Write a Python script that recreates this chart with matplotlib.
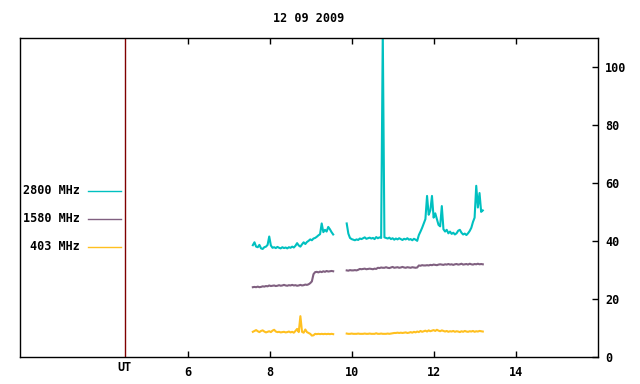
import matplotlib
matplotlib.use("Agg")
import matplotlib.pyplot as plt
import matplotlib.transforms as mtransforms
from matplotlib.lines import Line2D
import numpy as np

# Data series (time in UT hours, flux values)
title = "12 09 2009"
labels = ["2800 MHz", "1580 MHz", "403 MHz"]
colors = ["#00c0c0", "#806080", "#ffc020"]

step = 0.04
seg1_start = 7.58
seg2_start = 9.87

f2800_a = [38.5, 39.5, 38.0, 37.8, 38.6, 37.4, 37.2, 37.8, 38.0, 38.6,
           41.5, 38.4, 37.6, 37.8, 37.5, 37.9, 37.6, 37.4, 37.8, 37.5,
           37.7, 37.4, 37.8, 37.6, 38.0, 37.7, 38.3, 39.2, 38.4, 38.0,
           38.8, 39.5, 38.9, 39.6, 40.0, 40.5, 40.2, 40.8, 41.0, 41.4,
           41.9, 42.3, 46.0, 43.0, 43.8, 43.2, 44.8, 44.0, 43.0, 42.2]
f2800_b = [46.0, 42.5, 41.0, 40.6, 40.4, 40.2, 40.5, 40.3, 40.8, 40.6,
           40.9, 41.2, 40.7, 40.9, 41.1, 40.8, 41.0, 40.6, 41.3, 40.9,
           41.2, 41.0, 112.0, 41.2, 41.0, 40.8, 41.1, 40.6, 40.9, 40.4,
           40.8, 40.5, 40.9, 40.6, 40.3, 40.7, 40.5, 40.9, 40.4, 40.6,
           40.2, 40.7, 40.4, 40.0, 42.0, 43.2, 44.5, 46.0, 47.5, 55.5,
           49.0, 50.5, 55.5, 48.0, 49.5, 47.5, 45.5, 45.0, 52.0, 44.0,
           43.2, 43.8, 42.6, 43.2, 42.4, 42.8, 42.2, 42.6, 43.5, 43.8,
           42.8, 42.2, 42.5, 42.0, 42.6, 43.4, 44.5, 46.5, 48.0, 59.0,
           51.5, 56.5, 50.0, 50.5]

f1580_a = [24.0, 24.1, 24.0, 24.2, 24.0, 24.1, 24.3, 24.2, 24.4, 24.3,
           24.6, 24.4, 24.5, 24.6, 24.4, 24.5, 24.7, 24.5, 24.6, 24.8,
           24.6, 24.5, 24.7, 24.6, 24.8, 24.6, 24.7, 24.5, 24.6, 24.8,
           24.6, 24.7, 24.9, 24.8, 25.0, 25.4, 26.0, 28.5, 29.2, 29.3,
           29.1, 29.4, 29.2, 29.5, 29.3, 29.6, 29.4, 29.5, 29.6, 29.5]
f1580_b = [29.8, 29.7, 29.9, 29.8, 29.8, 29.9, 29.8, 30.0, 30.3, 30.2,
           30.3, 30.4, 30.2, 30.3, 30.4, 30.3, 30.2, 30.4, 30.3, 30.7,
           30.6, 30.8, 30.7, 30.7, 30.9, 30.7, 30.6, 30.8, 31.0, 30.7,
           30.8, 30.9, 30.7, 30.8, 31.0, 30.8, 30.7, 30.9, 30.8, 30.7,
           30.9, 30.8, 30.7, 30.8, 31.5, 31.4, 31.6, 31.5, 31.5, 31.6,
           31.5, 31.7, 31.6, 31.8, 31.7, 31.6, 31.8, 31.9, 31.8, 31.7,
           31.9, 31.8, 32.0, 31.8, 31.9, 31.7, 31.9, 32.0, 31.8, 31.9,
           32.1, 31.8, 31.9, 32.0, 31.8, 32.1, 31.9, 31.8, 32.0, 31.9,
           32.1, 31.9, 32.0, 31.9]

f403_a = [8.6, 8.9, 9.2, 8.8, 8.5, 8.9, 9.1, 8.7, 8.4, 8.6,
          8.8, 8.5, 9.0, 9.3, 8.7, 8.5, 8.6, 8.4, 8.5, 8.6,
          8.4, 8.5, 8.7, 8.4, 8.6, 8.3, 8.9, 9.6, 8.5, 14.0,
          8.6, 8.3, 9.4, 8.5, 8.2, 7.9, 7.3, 7.4, 7.9, 7.8,
          7.9, 7.8, 7.9, 7.8, 7.9, 7.8, 7.9, 7.8, 7.9, 7.8]
f403_b = [8.0, 7.9, 7.9, 8.0, 7.9, 7.9, 7.9, 8.0, 7.9, 7.9,
          7.9, 8.0, 7.9, 7.9, 8.0, 7.9, 7.9, 7.9, 8.1, 7.9,
          7.9, 8.0, 7.9, 7.9, 7.9, 8.0, 7.9, 8.0, 8.1, 8.2,
          8.2, 8.3, 8.2, 8.3, 8.2, 8.3, 8.4, 8.2, 8.3, 8.5,
          8.3, 8.6, 8.4, 8.7, 8.5, 8.9, 8.6, 8.8, 9.0, 8.7,
          9.1, 8.8, 9.0, 9.2, 8.9, 9.3, 9.0, 8.8, 9.1, 8.9,
          8.7, 8.9, 8.6, 8.8, 8.7, 8.9, 8.6, 8.8, 8.7, 8.5,
          8.8, 8.6, 8.9, 8.7, 8.6, 8.8, 8.7, 8.9, 8.6, 8.8,
          8.7, 8.9, 8.8, 8.7]

xticks = [6, 8, 10, 12, 14]
yticks = [0, 20, 40, 60, 80, 100]
ut_pos = 4.46


def times(start, vals):
    return start + step * np.arange(len(vals))


font = {"family": "DejaVu Sans Mono", "weight": "bold", "size": 8.5}

fig = plt.figure(figsize=(6.4, 3.84), dpi=100)
ax = fig.add_axes([0.03125, 0.071, 0.9031, 0.830])

series = [(f2800_a, f2800_b), (f1580_a, f1580_b), (f403_a, f403_b)]
for (a, b), c in zip(series, colors):
    ax.plot(times(seg1_start, a), a, color=c, lw=1.5)
    ax.plot(times(seg2_start, b), b, color=c, lw=1.5)

ax.axvline(ut_pos, color="#800000", lw=1)

ax.set_xlim(1.9, 16.0)
ax.set_ylim(0, 110)

ax.set_xticks(xticks)
ax.set_yticks(yticks)
ax.tick_params(axis="x", direction="in", top=True, bottom=True, length=4,
               pad=7, width=1)
ax.tick_params(axis="y", direction="in", left=False, right=True,
               labelleft=False, labelright=True, length=4, pad=5, width=1)
for lab in ax.get_xticklabels() + ax.get_yticklabels():
    lab.set_fontproperties(matplotlib.font_manager.FontProperties(**font))
for sp in ax.spines.values():
    sp.set_linewidth(1)

trans = mtransforms.blended_transform_factory(ax.transData, ax.transAxes)
ax.text(ut_pos, -0.035, "UT", transform=trans, ha="center", va="center",
        **font)

fig.text(309 / 640, 1 - 19 / 384, title, ha="center", va="center", **font)

# legend drawn by hand like gnuplot
leg_y = [191, 219, 247]
for lab, c, yp in zip(labels, colors, leg_y):
    fy = 1 - yp / 384
    fig.text(80 / 640, fy, lab, ha="right", va="center", **font)
    fig.add_artist(Line2D([88 / 640, 121 / 640], [fy, fy], color=c, lw=1,
                          transform=fig.transFigure))

fig.savefig("out.png", dpi=100)
